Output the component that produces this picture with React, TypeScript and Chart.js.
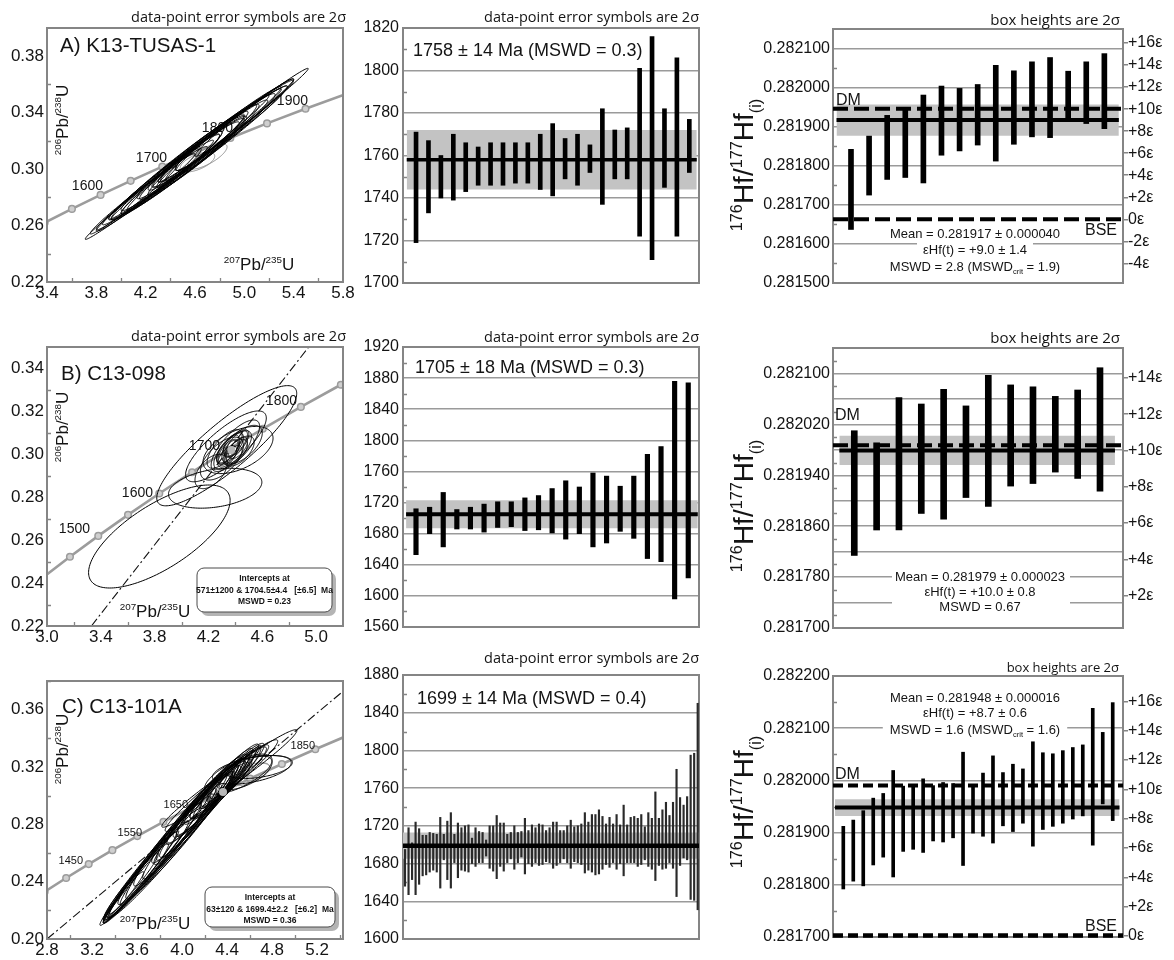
import React, { useEffect, useRef } from "react";
import { Chart, registerables } from "chart.js";

Chart.register(...registerables);

const SANS = '"Liberation Sans", Arial, Helvetica, sans-serif';
const NARROW = '"Liberation Sans Narrow", "Liberation Sans", Arial, sans-serif';
const HUMAN = '"Open Sans", "Noto Sans", sans-serif';
const INK = "#141414";
const FRAME = "#858585";
const GRID = "#9a9a9a";
const BAND = "#c3c3c3";

// ---------------- DATA ----------------
// Concordia curve (age in Ma, 207Pb/235U, 206Pb/238U)
const concordiaAges = [1300, 1350, 1400, 1450, 1500, 1550, 1600, 1650, 1700, 1750, 1800, 1850, 1900, 1950, 2000];
const concordiaPb207U235 = [2.5977, 2.7793, 2.9701, 3.1705, 3.381, 3.6021, 3.8345, 4.0784, 4.3347, 4.604, 4.8869, 5.184, 5.4961, 5.8241, 6.1686];
const concordiaPb206U238 = [0.22344, 0.23296, 0.24257, 0.25225, 0.26199, 0.2718, 0.28172, 0.29167, 0.30174, 0.31188, 0.3221, 0.33241, 0.3428, 0.35323, 0.36378];

// Panel A (K13-TUSAS-1) concordia
const xTicksA = [3.4, 3.8, 4.2, 4.6, 5.0, 5.4, 5.8];
const yTicksA = [0.22, 0.26, 0.3, 0.34, 0.38];
const xMinorA = [3.6, 4.0, 4.4, 4.8, 5.2, 5.6];
const yMinorA = [0.24, 0.28, 0.32, 0.36];
// ellipses: [centre x, centre y, half-width x, half-height y, correlation]
const ellipsesA = [
  [4.614, 0.3108, 0.904, 0.0606, 0.996],
  [4.6, 0.31, 0.8, 0.054, 0.993],
  [4.66, 0.314, 0.74, 0.05, 0.992],
  [4.55, 0.3085, 0.65, 0.044, 0.99],
  [4.7, 0.315, 0.65, 0.044, 0.988],
  [4.45, 0.301, 0.55, 0.037, 0.985],
  [4.5, 0.302, 0.5, 0.034, 0.98],
  [4.58, 0.31, 0.45, 0.031, 0.975],
  [4.62, 0.3095, 0.4, 0.028, 0.97],
  [4.68, 0.3165, 0.42, 0.029, 0.975],
  [4.74, 0.318, 0.45, 0.031, 0.98],
  [4.8, 0.3245, 0.5, 0.034, 0.985],
  [4.4, 0.2975, 0.4, 0.027, 0.975],
  [4.35, 0.292, 0.35, 0.024, 0.975],
  [4.52, 0.306, 0.3, 0.021, 0.96],
  [4.66, 0.3125, 0.3, 0.021, 0.96],
  [4.57, 0.309, 0.25, 0.018, 0.95],
  [4.72, 0.319, 0.28, 0.02, 0.96],
  [4.85, 0.327, 0.55, 0.036, 0.988],
  [4.3, 0.2905, 0.45, 0.03, 0.985],
  [4.9, 0.329, 0.45, 0.03, 0.98],
  [4.45, 0.301, 0.2, 0.014, 0.93],
  [4.62, 0.312, 0.18, 0.013, 0.93],
  [4.2, 0.284, 0.4, 0.027, 0.985],
  [4.1, 0.278, 0.35, 0.024, 0.985],
  [4.95, 0.333, 0.35, 0.024, 0.98],
  [4.52, 0.305, 0.6, 0.041, 0.98],
  [4.7, 0.316, 0.55, 0.0375, 0.98],
];
const ellipsesAGray = [
  [4.62, 0.305, 0.14, 0.007, 0.6],
  [4.7, 0.309, 0.16, 0.009, 0.75],
];

// Panel B (C13-098) concordia
const xTicksB = [3.0, 3.4, 3.8, 4.2, 4.6, 5.0];
const yTicksB = [0.22, 0.24, 0.26, 0.28, 0.3, 0.32, 0.34];
const xMinorB = [3.2, 3.6, 4.0, 4.4, 4.8];
const yMinorB = [0.23, 0.25, 0.27, 0.29, 0.31, 0.33];
const discordiaB = [{ x: 3.33, y: 0.22 }, { x: 4.97, y: 0.352 }];
const centroidB = [{ x: 4.37, y: 0.302 }];
const ellipsesB = [
  [3.835, 0.2617, 0.526, 0.024, 0.7],
  [4.25, 0.2842, 0.347, 0.0093, 0.3],
  [4.336, 0.304, 0.52, 0.028, 0.87],
  [4.33, 0.3037, 0.3, 0.0165, 0.8],
  [4.42, 0.302, 0.26, 0.011, 0.5],
  [4.3, 0.298, 0.16, 0.01, 0.6],
  [4.22, 0.292, 0.12, 0.008, 0.5],
  [4.4, 0.304, 0.18, 0.012, 0.75],
  [4.38, 0.302, 0.14, 0.009, 0.7],
  [4.36, 0.303, 0.1, 0.007, 0.7],
  [4.4, 0.301, 0.09, 0.006, 0.6],
  [4.35, 0.301, 0.08, 0.006, 0.6],
  [4.42, 0.303, 0.07, 0.005, 0.6],
  [4.37, 0.304, 0.06, 0.005, 0.5],
  [4.39, 0.3, 0.06, 0.004, 0.5],
  [4.34, 0.299, 0.07, 0.005, 0.6],
  [4.41, 0.305, 0.08, 0.006, 0.7],
  [4.38, 0.3035, 0.12, 0.008, 0.75],
  [4.45, 0.3045, 0.15, 0.009, 0.6],
  [4.32, 0.3025, 0.13, 0.009, 0.7],
  [4.37, 0.3025, 0.05, 0.004, 0.5],
  [4.43, 0.3015, 0.11, 0.007, 0.6],
];

// Panel C (C13-101A) concordia
const xTicksC = [2.8, 3.2, 3.6, 4.0, 4.4, 4.8, 5.2];
const yTicksC = [0.2, 0.24, 0.28, 0.32, 0.36];
const xMinorC = [3.0, 3.4, 3.8, 4.2, 4.6, 5.0, 5.4];
const yMinorC = [0.22, 0.26, 0.3, 0.34, 0.38];
const discordiaC = [{ x: 2.8, y: 0.2 }, { x: 5.41, y: 0.3715 }];
const centroidC = [{ x: 4.364, y: 0.3025 }];
const ellipsesC = [
  [3.8, 0.258, 0.5, 0.047, 0.985],
  [3.85, 0.264, 0.55, 0.051, 0.985],
  [3.9, 0.266, 0.55, 0.051, 0.98],
  [3.95, 0.273, 0.52, 0.049, 0.98],
  [4.0, 0.275, 0.5, 0.047, 0.975],
  [4.05, 0.282, 0.48, 0.045, 0.975],
  [3.75, 0.255, 0.42, 0.04, 0.98],
  [3.7, 0.2485, 0.36, 0.034, 0.98],
  [3.65, 0.246, 0.3, 0.0285, 0.975],
  [3.6, 0.24, 0.28, 0.0265, 0.975],
  [3.55, 0.2375, 0.24, 0.0225, 0.97],
  [3.48, 0.23, 0.18, 0.017, 0.97],
  [4.1, 0.284, 0.45, 0.042, 0.975],
  [4.15, 0.291, 0.42, 0.038, 0.97],
  [4.2, 0.293, 0.4, 0.036, 0.97],
  [4.25, 0.3, 0.38, 0.033, 0.965],
  [4.3, 0.3015, 0.35, 0.03, 0.96],
  [4.35, 0.308, 0.33, 0.028, 0.96],
  [4.4, 0.309, 0.3, 0.025, 0.95],
  [4.45, 0.3145, 0.28, 0.022, 0.94],
  [4.5, 0.316, 0.25, 0.018, 0.93],
  [4.55, 0.3205, 0.22, 0.015, 0.92],
  [4.28, 0.303, 0.28, 0.022, 0.94],
  [4.32, 0.304, 0.25, 0.02, 0.94],
  [4.38, 0.309, 0.22, 0.018, 0.92],
  [4.42, 0.3105, 0.2, 0.015, 0.88],
  [4.22, 0.296, 0.3, 0.025, 0.95],
  [4.18, 0.294, 0.32, 0.028, 0.96],
  [4.12, 0.286, 0.35, 0.031, 0.965],
  [4.42, 0.312, 0.6, 0.034, 0.98],
  [4.35, 0.307, 0.5, 0.032, 0.97],
  [4.62, 0.318, 0.35, 0.01, 0.5],
  [4.55, 0.316, 0.25, 0.012, 0.6],
  [4.68, 0.32, 0.3, 0.008, 0.4],
  [4.5, 0.315, 0.3, 0.014, 0.7],
  [3.77, 0.256, 0.47, 0.045, 0.99],
  [4.0, 0.2732, 0.7, 0.062, 0.993],
  [3.9, 0.268, 0.6, 0.056, 0.99],
  [4.3, 0.303, 0.15, 0.012, 0.88],
  [4.25, 0.299, 0.18, 0.015, 0.9],
  [4.35, 0.306, 0.12, 0.01, 0.88],
  [4.45, 0.312, 0.15, 0.011, 0.85],
  [3.62, 0.2425, 0.35, 0.033, 0.985],
  [3.85, 0.2615, 0.4, 0.038, 0.975],
  [4.05, 0.28, 0.3, 0.028, 0.96],
  [4.2, 0.2945, 0.25, 0.022, 0.95],
];
const ellipsesCGray = [
  [4.6, 0.315, 0.18, 0.008, 0.6],
  [4.66, 0.3165, 0.12, 0.006, 0.5],
];

// Weighted-mean ages (Ma): 2-sigma bar low / high
const ageTicksA = [1700, 1720, 1740, 1760, 1780, 1800, 1820];
const ageMinorA = [1710, 1730, 1750, 1770, 1790, 1810];
const ageLowA = [1719, 1733, 1740, 1739, 1743, 1746, 1746, 1746, 1747, 1747, 1744, 1741, 1749, 1746, 1752, 1737, 1749, 1749, 1722, 1711, 1745, 1722, 1752];
const ageHighA = [1771, 1767, 1760, 1770, 1766, 1764, 1766, 1766, 1766, 1766, 1770, 1775, 1768, 1770, 1765, 1782, 1772, 1773, 1801, 1816, 1782, 1806, 1777];
const ageMeanA = [1758, 14];

const ageTicksB = [1560, 1600, 1640, 1680, 1720, 1760, 1800, 1840, 1880, 1920];
const ageMinorB = [1580, 1620, 1660, 1700, 1740, 1780, 1820, 1860, 1900];
const ageLowB = [1653, 1680, 1663, 1686, 1686, 1682, 1688, 1689, 1684, 1685, 1681, 1673, 1680, 1663, 1668, 1683, 1674, 1648, 1644, 1596, 1623];
const ageHighB = [1712, 1714, 1733, 1711, 1714, 1718, 1721, 1721, 1726, 1729, 1738, 1748, 1740, 1758, 1754, 1741, 1754, 1782, 1792, 1876, 1874];
const ageMeanB = [1705, 18];

const ageTicksC = [1600, 1640, 1680, 1720, 1760, 1800, 1840, 1880];
const ageMinorC = [1620, 1660, 1700, 1740, 1780, 1820, 1860];
const ageLowC = [
  1656, 1647, 1663, 1647, 1658, 1667, 1668, 1671, 1673, 1671,
  1654, 1684, 1663, 1654, 1681, 1665, 1673, 1672, 1671, 1680,
  1677, 1681, 1681, 1688, 1675, 1672, 1664, 1677, 1672, 1681,
  1685, 1674, 1681, 1687, 1669, 1680, 1677, 1681, 1678, 1679,
  1682, 1681, 1675, 1678, 1681, 1685, 1681, 1675, 1682, 1681,
  1679, 1670, 1673, 1671, 1668, 1669, 1674, 1679, 1676, 1681,
  1674, 1680, 1667, 1681, 1681, 1681, 1677, 1679, 1684, 1677,
  1674, 1662, 1678, 1674, 1675, 1681, 1675, 1645, 1678, 1686,
  1684, 1642, 1641, 1631,
];
const ageHighC = [
  1695, 1718, 1702, 1724, 1717, 1710, 1710, 1713, 1712, 1711,
  1729, 1711, 1725, 1734, 1711, 1723, 1718, 1720, 1721, 1707,
  1718, 1714, 1713, 1705, 1720, 1720, 1731, 1723, 1723, 1711,
  1713, 1720, 1713, 1714, 1728, 1715, 1721, 1718, 1722, 1721,
  1715, 1718, 1724, 1724, 1715, 1715, 1720, 1726, 1719, 1720,
  1722, 1734, 1724, 1732, 1732, 1737, 1730, 1722, 1729, 1722,
  1732, 1721, 1742, 1721, 1729, 1730, 1728, 1732, 1719, 1734,
  1728, 1756, 1728, 1737, 1745, 1731, 1745, 1780, 1750, 1742,
  1751, 1795, 1797, 1850,
];
const ageMeanC = [1699, 14];

// 176Hf/177Hf(i): 2-sigma box low / high
const hfTicksA = [0.2815, 0.2816, 0.2817, 0.2818, 0.2819, 0.282, 0.2821];
const hfMinorA = [0.28155, 0.28165, 0.28175, 0.28185, 0.28195, 0.28205];
const hfLabelsA = ["0.281500", "0.281600", "0.281700", "0.281800", "0.281900", "0.282000", "0.282100"];
const hfLowA = [0.281637, 0.281725, 0.281765, 0.28177, 0.281756, 0.281827, 0.281838, 0.281853, 0.281812, 0.281855, 0.281874, 0.281872, 0.281917, 0.281908, 0.281895];
const hfHighA = [0.281842, 0.281876, 0.281929, 0.281946, 0.281981, 0.282004, 0.281998, 0.282008, 0.282057, 0.282043, 0.282066, 0.282077, 0.282042, 0.282066, 0.282087];
const hfMeanA = [0.281917, 0.00004];
const hfRefA = { dm: 0.281946, bse: 0.281663, chur: 0.281663, unit: 0.0000282 };
const epsTicksA = [-4, -2, 0, 2, 4, 6, 8, 10, 12, 14, 16];

const hfTicksB = [0.2817, 0.28174, 0.28178, 0.28182, 0.28186, 0.2819, 0.28194, 0.28198, 0.28202, 0.28206, 0.2821, 0.28214];
const hfMinorB = [0.28172, 0.28176, 0.2818, 0.28184, 0.28188, 0.28192, 0.28196, 0.282, 0.28204, 0.28208, 0.28212];
const hfLabelsB = ["0.281700", "", "0.281780", "", "0.281860", "", "0.281940", "", "0.282020", "", "0.282100", ""];
const hfLowB = [0.281814, 0.281854, 0.281854, 0.28188, 0.281871, 0.281905, 0.281891, 0.281923, 0.281927, 0.281945, 0.281935, 0.281915];
const hfHighB = [0.28201, 0.281991, 0.282062, 0.282052, 0.282075, 0.282049, 0.282097, 0.282082, 0.282079, 0.282064, 0.282074, 0.282109];
const hfMeanB = [0.281979, 0.000023];
const hfRefB = { dm: 0.281987, chur: 0.281694, unit: 0.0000285 };
const epsTicksB = [2, 4, 6, 8, 10, 12, 14];

const hfTicksC = [0.2817, 0.2818, 0.2819, 0.282, 0.2821, 0.2822];
const hfMinorC = [0.28175, 0.28185, 0.28195, 0.28205, 0.28215];
const hfLabelsC = ["0.281700", "0.281800", "0.281900", "0.282000", "0.282100", "0.282200"];
const hfLowC = [
  0.281792, 0.281807, 0.281798, 0.281838, 0.281853, 0.281815, 0.281864, 0.281868, 0.281862, 0.281884,
  0.281882, 0.28189, 0.281837, 0.281899, 0.281893, 0.28188, 0.281913, 0.281902, 0.281918, 0.281874,
  0.281906, 0.281912, 0.281918, 0.281926, 0.281932, 0.281876, 0.281955, 0.281923,
];
const hfHighC = [
  0.281912, 0.281924, 0.281942, 0.281966, 0.281975, 0.282019, 0.281989, 0.28199, 0.282003, 0.28199,
  0.281996, 0.281994, 0.282054, 0.281989, 0.282014, 0.282047, 0.282015, 0.282031, 0.282022, 0.282074,
  0.282053, 0.282051, 0.282057, 0.282063, 0.282068, 0.282138, 0.282092, 0.282149,
];
const hfMeanC = [0.281948, 0.000016];
const hfRefC = { dm: 0.28199, bse: 0.281703, chur: 0.281702, unit: 0.0000281 };
const epsTicksC = [0, 2, 4, 6, 8, 10, 12, 14, 16];

// ---------------- DRAWING HELPERS ----------------
type Part = { t: string; sup?: boolean; sub?: boolean };
type TextItem = {
  x: number; y: number; parts: string | Part[]; size: number;
  family?: string; weight?: string; align?: "left" | "center" | "right";
  rotate?: boolean; bg?: number; under?: boolean;
};
type Geo = { cl: number; ct: number; cw: number; ch: number; L: number; T: number; R: number; B: number };
type Spec = {
  geo: Geo;
  config: any;
  texts: TextItem[];
  ellipses?: { items: number[][]; color: string; width: number }[];
  dots?: { x: number; y: number }[];
  boxes?: number[][];
  bgRects?: number[][];
  minorX?: number[];
  minorY?: number[];
};

function drawRich(ctx: CanvasRenderingContext2D, it: TextItem, ox: number, oy: number) {
  const fam = it.family || SANS;
  const wt = it.weight || "normal";
  const parts: Part[] = typeof it.parts === "string" ? [{ t: it.parts }] : it.parts;
  const segs = parts.map((p) => {
    const s = p.sup || p.sub ? it.size * 0.58 : it.size;
    ctx.font = `${wt} ${s}px ${fam}`;
    return { p, s, w: ctx.measureText(p.t).width };
  });
  const total = segs.reduce((a, b) => a + b.w, 0);
  ctx.save();
  ctx.translate(it.x - ox, it.y - oy);
  if (it.rotate) ctx.rotate(-Math.PI / 2);
  let x = it.align === "left" ? 0 : it.align === "right" ? -total : -total / 2;
  if (it.bg !== undefined) {
    ctx.fillStyle = "#fff";
    ctx.fillRect(x - it.bg, -it.size * 0.62, total + 2 * it.bg, it.size * 1.24);
  }
  ctx.fillStyle = INK;
  ctx.textAlign = "left";
  ctx.textBaseline = "alphabetic";
  const base = it.size * 0.36;
  for (const sg of segs) {
    ctx.font = `${wt} ${sg.s}px ${fam}`;
    const dy = sg.p.sup ? -it.size * 0.4 : sg.p.sub ? it.size * 0.28 : 0;
    ctx.fillText(sg.p.t, x, base + dy);
    x += sg.w;
  }
  ctx.restore();
}

function concConfig(g: Geo, xr: number[], yr: number[], xTicks: number[], yTicks: number[], discordia?: { x: number; y: number }[]) {
  const datasets: any[] = [];
  if (discordia) {
    datasets.push({
      data: discordia, showLine: true, borderColor: "#111", borderWidth: 1.1,
      borderDash: [9, 3, 2, 3], pointRadius: 0, order: 1,
    });
  }
  datasets.push({
    data: concordiaAges.map((_, i) => ({ x: concordiaPb207U235[i], y: concordiaPb206U238[i] })),
    showLine: true, borderColor: "#9c9c9c", borderWidth: 2.6, pointRadius: 3.3,
    pointBackgroundColor: "#cfcfcf", pointBorderColor: "#9c9c9c", pointBorderWidth: 1.5, order: 2,
  });
  return {
    type: "scatter",
    data: { datasets },
    options: {
      responsive: false, animation: false, events: [],
      layout: { padding: { top: g.T - g.ct, right: g.cl + g.cw - g.R, left: 0, bottom: 0 } },
      plugins: { legend: { display: false }, tooltip: { enabled: false } },
      scales: {
        x: {
          type: "linear", min: xr[0], max: xr[1],
          afterBuildTicks: (s: any) => { s.ticks = xTicks.map((v) => ({ value: v })); },
          afterFit: (s: any) => { s.height = g.ct + g.ch - g.B; },
          ticks: {
            callback: (v: any) => Number(v).toFixed(1), font: { family: SANS, size: 17 }, color: INK,
            padding: 1, maxRotation: 0, minRotation: 0, autoSkip: false,
          },
          grid: { display: false, drawTicks: false }, border: { display: false },
        },
        y: {
          type: "linear", min: yr[0], max: yr[1],
          afterBuildTicks: (s: any) => { s.ticks = yTicks.map((v) => ({ value: v })); },
          afterFit: (s: any) => { s.width = g.L - g.cl; },
          ticks: { callback: (v: any) => Number(v).toFixed(2), font: { family: SANS, size: 17 }, color: INK, padding: 3, autoSkip: false },
          grid: { display: false, drawTicks: false }, border: { display: false },
        },
      },
    },
  };
}

function barConfig(o: {
  g: Geo; xr: number[]; yr: number[]; yTicks: number[]; yLabels: string[];
  lows: number[]; highs: number[]; barW: number; barColor: string;
  band: number[]; bandX: number[]; meanW: number;
  lines?: { y: number; dash: number[]; w: number }[];
  eps?: { chur: number; unit: number; ticks: number[] };
}) {
  const g = o.g;
  const [m, e] = o.band;
  const [bx0, bx1] = o.bandX;
  const datasets: any[] = [
    {
      type: "bar", data: o.lows.map((lo, i) => ({ x: i + 1, y: [lo, o.highs[i]] })),
      backgroundColor: o.barColor, barThickness: o.barW, borderWidth: 0, order: 5,
    },
    {
      type: "line", data: [{ x: bx0, y: m + e }, { x: bx1, y: m + e }], borderWidth: 0,
      borderColor: "transparent", pointRadius: 0, fill: "+1", backgroundColor: BAND, order: 10,
    },
    {
      type: "line", data: [{ x: bx0, y: m - e }, { x: bx1, y: m - e }], borderWidth: 0,
      borderColor: "transparent", pointRadius: 0, fill: false, order: 11,
    },
    {
      type: "line", data: [{ x: bx0, y: m }, { x: bx1, y: m }], borderColor: "#000",
      borderWidth: o.meanW, pointRadius: 0, fill: false, order: 2,
    },
  ];
  (o.lines || []).forEach((ln) => {
    datasets.push({
      type: "line", data: [{ x: o.xr[0], y: ln.y }, { x: o.xr[1], y: ln.y }], borderColor: "#000",
      borderWidth: ln.w, borderDash: ln.dash, pointRadius: 0, fill: false, order: 1, clip: false,
    });
  });
  const scales: any = {
    x: { type: "linear", display: false, min: o.xr[0], max: o.xr[1], offset: false },
    y: {
      type: "linear", min: o.yr[0], max: o.yr[1],
      afterBuildTicks: (s: any) => { s.ticks = o.yTicks.map((v) => ({ value: v })); },
      afterFit: (s: any) => { s.width = g.L - g.cl; },
      ticks: {
        callback: (_v: any, i: number) => o.yLabels[i], font: { family: SANS, size: 16 },
        color: INK, padding: o.eps ? 3 : 4, autoSkip: false,
      },
      grid: { color: GRID, lineWidth: 1.5, drawTicks: false }, border: { display: false },
    },
  };
  if (o.eps) {
    const ep = o.eps;
    scales.y2 = {
      type: "linear", position: "right",
      min: (o.yr[0] - ep.chur) / ep.unit, max: (o.yr[1] - ep.chur) / ep.unit,
      afterBuildTicks: (s: any) => { s.ticks = ep.ticks.map((v) => ({ value: v })); },
      afterFit: (s: any) => { s.width = g.cl + g.cw - g.R; },
      ticks: {
        callback: (v: any) => (v > 0 ? "+" + v + "ε" : v === 0 ? "0ε" : v + "ε"),
        font: { family: SANS, size: 16 }, color: INK, padding: 0, autoSkip: false,
      },
      grid: { drawOnChartArea: false, drawTicks: true, tickLength: 5, color: FRAME, lineWidth: 1.5 },
      border: { display: false },
    };
  }
  return {
    type: "bar",
    data: { datasets },
    options: {
      responsive: false, animation: false, events: [],
      layout: { padding: { top: g.T - g.ct, bottom: g.ct + g.ch - g.B, left: 0, right: o.eps ? 0 : g.cl + g.cw - g.R } },
      plugins: { legend: { display: false }, tooltip: { enabled: false } },
      scales,
    },
  };
}

function Panel({ spec }: { spec: Spec }) {
  const ref = useRef<HTMLCanvasElement | null>(null);
  useEffect(() => {
    const canvas = ref.current;
    if (!canvas) return;
    const g = spec.geo;
    const overlay = {
      id: "overlay",
      beforeDatasetsDraw(chart: any) {
        const ctx = chart.ctx as CanvasRenderingContext2D;
        const a = chart.chartArea;
        ctx.save();
        ctx.strokeStyle = FRAME;
        ctx.lineWidth = 2;
        ctx.strokeRect(a.left, a.top, a.right - a.left, a.bottom - a.top);
        ctx.lineWidth = 1.3;
        ctx.beginPath();
        (spec.minorY || []).forEach((v) => {
          const py = Math.round(chart.scales.y.getPixelForValue(v)) + 0.5;
          ctx.moveTo(a.left, py);
          ctx.lineTo(a.left + 4, py);
        });
        (spec.minorX || []).forEach((v) => {
          const px = Math.round(chart.scales.x.getPixelForValue(v)) + 0.5;
          ctx.moveTo(px, a.bottom);
          ctx.lineTo(px, a.bottom - 4);
        });
        ctx.stroke();
        ctx.restore();
      },
      afterDatasetsDraw(chart: any) {
        const ctx = chart.ctx as CanvasRenderingContext2D;
        const a = chart.chartArea;
        spec.texts.filter((t) => t.under).forEach((t) => drawRich(ctx, t, g.cl, g.ct));
        if (spec.ellipses) {
          const xs = chart.scales.x;
          const ys = chart.scales.y;
          ctx.save();
          ctx.beginPath();
          ctx.rect(a.left, a.top, a.right - a.left, a.bottom - a.top);
          ctx.clip();
          for (const set of spec.ellipses) {
            ctx.strokeStyle = set.color;
            ctx.lineWidth = set.width;
            for (const [cx, cy, hx, hy, rho] of set.items) {
              const s = Math.sqrt(1 - rho * rho);
              ctx.beginPath();
              const n = 160;
              for (let k = 0; k <= n; k++) {
                const th = (k / n) * Math.PI * 2;
                const px = xs.getPixelForValue(cx + hx * Math.cos(th));
                const py = ys.getPixelForValue(cy + hy * (rho * Math.cos(th) + s * Math.sin(th)));
                if (k === 0) ctx.moveTo(px, py);
                else ctx.lineTo(px, py);
              }
              ctx.closePath();
              ctx.stroke();
            }
          }
          if (spec.dots) {
            ctx.fillStyle = "#b8b8b8";
            for (const d of spec.dots) {
              ctx.beginPath();
              ctx.arc(xs.getPixelForValue(d.x), ys.getPixelForValue(d.y), 4, 0, Math.PI * 2);
              ctx.fill();
            }
          }
          ctx.restore();
          ctx.save();
          ctx.strokeStyle = FRAME;
          ctx.lineWidth = 2;
          ctx.strokeRect(a.left, a.top, a.right - a.left, a.bottom - a.top);
          ctx.restore();
        }
        (spec.bgRects || []).forEach((r) => {
          ctx.fillStyle = "#fff";
          ctx.fillRect(r[0] - g.cl, r[1] - g.ct, r[2] - r[0], r[3] - r[1]);
        });
        (spec.boxes || []).forEach((b) => {
          const x = b[0] - g.cl, y = b[1] - g.ct, w = b[2] - b[0], h = b[3] - b[1];
          ctx.save();
          ctx.fillStyle = "#b4b4b4";
          ctx.beginPath();
          (ctx as any).roundRect(x + 4, y + 4, w, h, 7);
          ctx.fill();
          ctx.fillStyle = "#fff";
          ctx.strokeStyle = "#4a4a4a";
          ctx.lineWidth = 1;
          ctx.beginPath();
          (ctx as any).roundRect(x, y, w, h, 7);
          ctx.fill();
          ctx.stroke();
          ctx.restore();
        });
        spec.texts.filter((t) => !t.under).forEach((t) => drawRich(ctx, t, g.cl, g.ct));
      },
    };
    const chart = new Chart(canvas, { ...spec.config, plugins: [overlay] });
    return () => chart.destroy();
  }, [spec]);
  const g = spec.geo;
  return (
    <canvas
      ref={ref}
      width={g.cw}
      height={g.ch}
      style={{ position: "absolute", left: g.cl, top: g.ct, width: g.cw, height: g.ch }}
    />
  );
}

// ---------------- LAYOUT ----------------
const geoA1: Geo = { cl: 0, ct: 0, cw: 360, ch: 302, L: 47, T: 28, R: 343, B: 282 };
const geoB1: Geo = { cl: 0, ct: 312, cw: 360, ch: 332, L: 47, T: 347, R: 343, B: 626 };
const geoC1: Geo = { cl: 0, ct: 648, cw: 360, ch: 312, L: 47, T: 681, R: 343, B: 939 };
const geoA2: Geo = { cl: 350, ct: 0, cw: 355, ch: 302, L: 403, T: 28, R: 699, B: 283 };
const geoB2: Geo = { cl: 350, ct: 312, cw: 355, ch: 332, L: 403, T: 347, R: 699, B: 627 };
const geoC2: Geo = { cl: 350, ct: 648, cw: 355, ch: 312, L: 403, T: 675, R: 699, B: 939 };
const geoA3: Geo = { cl: 705, ct: 0, cw: 469, ch: 302, L: 833, T: 29, R: 1123, B: 283 };
const geoB3: Geo = { cl: 705, ct: 312, cw: 469, ch: 332, L: 833, T: 348, R: 1123, B: 628 };
const geoC3: Geo = { cl: 705, ct: 648, cw: 469, ch: 312, L: 833, T: 676, R: 1123, B: 937 };

const pbY: Part[] = [{ t: "206", sup: true }, { t: "Pb/" }, { t: "238", sup: true }, { t: "U" }];
const pbX: Part[] = [{ t: "207", sup: true }, { t: "Pb/" }, { t: "235", sup: true }, { t: "U" }];
const hfY: Part[] = [{ t: "176", sup: true }, { t: "Hf/" }, { t: "177", sup: true }, { t: "Hf" }, { t: "(i)", sub: true }];
const TITLE_DP = "data-point error symbols are 2σ";
const TITLE_BOX = "box heights are 2σ";

const specs: Spec[] = [
  {
    geo: geoA1,
    config: concConfig(geoA1, [3.4, 5.8], [0.22, 0.4], xTicksA, yTicksA),
    minorX: xMinorA, minorY: yMinorA,
    ellipses: [
      { items: ellipsesAGray, color: "#8c8c8c", width: 1 },
      { items: ellipsesA, color: "#000", width: 1 },
    ],
    texts: [
      { x: 103, y: 185, parts: "1600", size: 14, align: "right", under: true },
      { x: 167, y: 157, parts: "1700", size: 14, align: "right", under: true },
      { x: 233, y: 127, parts: "1800", size: 14, align: "right", under: true },
      { x: 308, y: 100, parts: "1900", size: 14, align: "right", under: true },
      { x: 346, y: 17, parts: TITLE_DP, size: 14.5, family: HUMAN, align: "right" },
      { x: 60, y: 45, parts: "A) K13-TUSAS-1", size: 20.5, align: "left" },
      { x: 61.5, y: 120, parts: pbY, size: 17, rotate: true },
      { x: 259, y: 263.5, parts: pbX, size: 17 },
    ],
  },
  {
    geo: geoB1,
    config: concConfig(geoB1, [3.0, 5.2], [0.22, 0.35], xTicksB, yTicksB, discordiaB),
    minorX: xMinorB, minorY: yMinorB,
    ellipses: [{ items: ellipsesB, color: "#000", width: 1 }],
    dots: centroidB,
    boxes: [[197, 568, 332, 612]],
    texts: [
      { x: 90, y: 528, parts: "1500", size: 14, align: "right", under: true },
      { x: 153, y: 492, parts: "1600", size: 14, align: "right", under: true },
      { x: 220, y: 445, parts: "1700", size: 14, align: "right", under: true },
      { x: 297, y: 400, parts: "1800", size: 14, align: "right", under: true },
      { x: 346, y: 336, parts: TITLE_DP, size: 14.5, family: HUMAN, align: "right" },
      { x: 61, y: 373, parts: "B) C13-098", size: 20.5, align: "left" },
      { x: 61.5, y: 427, parts: pbY, size: 17, rotate: true },
      { x: 155, y: 611, parts: pbX, size: 17 },
      { x: 264.5, y: 577.5, parts: "Intercepts at", size: 8.5, weight: "bold", family: NARROW },
      { x: 264.5, y: 589.5, parts: "571±1200 & 1704.5±4.4   [±6.5]  Ma", size: 8.5, weight: "bold", family: NARROW },
      { x: 264.5, y: 601, parts: "MSWD = 0.23", size: 8.5, weight: "bold", family: NARROW },
    ],
  },
  {
    geo: geoC1,
    config: concConfig(geoC1, [2.8, 5.43], [0.2, 0.38], xTicksC, yTicksC, discordiaC),
    minorX: xMinorC, minorY: yMinorC,
    ellipses: [
      { items: ellipsesCGray, color: "#8c8c8c", width: 1 },
      { items: ellipsesC, color: "#000", width: 1 },
    ],
    dots: centroidC,
    boxes: [[205, 887, 335, 927]],
    texts: [
      { x: 83, y: 860, parts: "1450", size: 11, align: "right", under: true },
      { x: 142, y: 832, parts: "1550", size: 11, align: "right", under: true },
      { x: 188, y: 804, parts: "1650", size: 11, align: "right", under: true },
      { x: 315, y: 745, parts: "1850", size: 11, align: "right", under: true },
      { x: 62, y: 706, parts: "C) C13-101A", size: 20.5, align: "left" },
      { x: 61.5, y: 749, parts: pbY, size: 17, rotate: true },
      { x: 155, y: 923, parts: pbX, size: 17 },
      { x: 270, y: 897, parts: "Intercepts at", size: 8.5, weight: "bold", family: NARROW },
      { x: 270, y: 908.5, parts: "63±120 & 1699.4±2.2   [±6.2]  Ma", size: 8.5, weight: "bold", family: NARROW },
      { x: 270, y: 920, parts: "MSWD = 0.36", size: 8.5, weight: "bold", family: NARROW },
    ],
  },
  {
    geo: geoA2,
    config: barConfig({
      g: geoA2, xr: [-0.05, 23.78], yr: [1700, 1820], yTicks: ageTicksA, yLabels: ageTicksA.map(String),
      lows: ageLowA, highs: ageHighA, barW: 4, barColor: "#000", band: ageMeanA, bandX: [0.25, 23.6], meanW: 3.5,
    }),
    minorY: ageMinorA,
    texts: [
      { x: 699, y: 17, parts: TITLE_DP, size: 14.5, family: HUMAN, align: "right" },
      { x: 413, y: 50, parts: "1758 ± 14 Ma (MSWD = 0.3)", size: 18, align: "left" },
    ],
  },
  {
    geo: geoB2,
    config: barConfig({
      g: geoB2, xr: [0.045, 21.79], yr: [1560, 1920], yTicks: ageTicksB, yLabels: ageTicksB.map(String),
      lows: ageLowB, highs: ageHighB, barW: 4.5, barColor: "#000", band: ageMeanB, bandX: [0.27, 21.7], meanW: 4,
    }),
    minorY: ageMinorB,
    texts: [
      { x: 699, y: 337, parts: TITLE_DP, size: 14.5, family: HUMAN, align: "right" },
      { x: 415, y: 367, parts: "1705 ± 18 Ma (MSWD = 0.3)", size: 18, align: "left" },
    ],
  },
  {
    geo: geoC2,
    config: barConfig({
      g: geoC2, xr: [0.43, 84.37], yr: [1600, 1880], yTicks: ageTicksC, yLabels: ageTicksC.map(String),
      lows: ageLowC, highs: ageHighC, barW: 1.5, barColor: "#2a2a2a", band: ageMeanC, bandX: [0.43, 84.37], meanW: 4.5,
    }),
    minorY: ageMinorC,
    texts: [
      { x: 699, y: 658, parts: TITLE_DP, size: 14.5, family: HUMAN, align: "right" },
      { x: 417, y: 698, parts: "1699 ± 14 Ma (MSWD = 0.4)", size: 18, align: "left" },
    ],
  },
  {
    geo: geoA3,
    config: barConfig({
      g: geoA3, xr: [0.006, 16.03], yr: [0.2815, 0.28215], yTicks: hfTicksA, yLabels: hfLabelsA,
      lows: hfLowA, highs: hfHighA, barW: 5, barColor: "#000", band: hfMeanA, bandX: [0.2, 15.8], meanW: 4,
      lines: [{ y: hfRefA.dm, dash: [15, 6], w: 4 }, { y: hfRefA.bse, dash: [15, 6], w: 4 }],
      eps: { chur: hfRefA.chur, unit: hfRefA.unit, ticks: epsTicksA },
    }),
    minorY: hfMinorA,
    texts: [
      { x: 1120, y: 20, parts: TITLE_BOX, size: 15, family: HUMAN, align: "right" },
      { x: 836, y: 99, parts: "DM", size: 16, align: "left" },
      { x: 1117, y: 229, parts: "BSE", size: 16, align: "right" },
      { x: 975, y: 233, parts: "Mean = 0.281917 ± 0.000040", size: 13 },
      { x: 975, y: 249.5, parts: "εHf(t) = +9.0 ± 1.4", size: 13, bg: 6 },
      { x: 975, y: 266, parts: [{ t: "MSWD = 2.8 (MSWD" }, { t: "crit", sub: true }, { t: " = 1.9)" }], size: 13 },
      { x: 743, y: 165, parts: hfY, size: 28, rotate: true },
    ],
  },
  {
    geo: geoB3,
    config: barConfig({
      g: geoB3, xr: [0.047, 13.03], yr: [0.2817, 0.28214], yTicks: hfTicksB, yLabels: hfLabelsB,
      lows: hfLowB, highs: hfHighB, barW: 6, barColor: "#000", band: hfMeanB, bandX: [0.33, 12.67], meanW: 4,
      lines: [{ y: hfRefB.dm, dash: [15, 6], w: 4 }],
      eps: { chur: hfRefB.chur, unit: hfRefB.unit, ticks: epsTicksB },
    }),
    minorY: hfMinorB,
    bgRects: [[892, 569, 1070, 613]],
    texts: [
      { x: 1120, y: 338, parts: TITLE_BOX, size: 15, family: HUMAN, align: "right" },
      { x: 835, y: 414, parts: "DM", size: 16, align: "left" },
      { x: 980, y: 576, parts: "Mean = 0.281979 ± 0.000023", size: 13 },
      { x: 980, y: 591.7, parts: "εHf(t) = +10.0 ± 0.8", size: 13 },
      { x: 980, y: 606.7, parts: "MSWD = 0.67", size: 13 },
      { x: 743, y: 506, parts: hfY, size: 28, rotate: true },
    ],
  },
  {
    geo: geoC3,
    config: barConfig({
      g: geoC3, xr: [-0.032, 29.03], yr: [0.2817, 0.2822], yTicks: hfTicksC, yLabels: hfLabelsC,
      lows: hfLowC, highs: hfHighC, barW: 3, barColor: "#000", band: hfMeanC, bandX: [0.17, 28.68], meanW: 4,
      lines: [{ y: hfRefC.dm, dash: [10, 5], w: 4 }, { y: hfRefC.bse, dash: [10, 5], w: 4.5 }],
      eps: { chur: hfRefC.chur, unit: hfRefC.unit, ticks: epsTicksC },
    }),
    minorY: hfMinorC,
    texts: [
      { x: 1119, y: 667, parts: TITLE_BOX, size: 13, family: HUMAN, align: "right" },
      { x: 835, y: 773, parts: "DM", size: 16, align: "left" },
      { x: 1117, y: 925, parts: "BSE", size: 16, align: "right" },
      { x: 975, y: 697.3, parts: "Mean = 0.281948 ± 0.000016", size: 13 },
      { x: 975, y: 712.7, parts: "εHf(t) = +8.7 ± 0.6", size: 13 },
      { x: 975, y: 729, parts: [{ t: "MSWD = 1.6 (MSWD" }, { t: "crit", sub: true }, { t: " = 1.6)" }], size: 13, bg: 7 },
      { x: 743, y: 802, parts: hfY, size: 28, rotate: true },
    ],
  },
];

export default function App() {
  return (
    <div style={{ position: "absolute", left: 0, top: 0, width: 1174, height: 960, background: "#fff", overflow: "hidden" }}>
      {specs.map((s, i) => (
        <Panel key={i} spec={s} />
      ))}
    </div>
  );
}
